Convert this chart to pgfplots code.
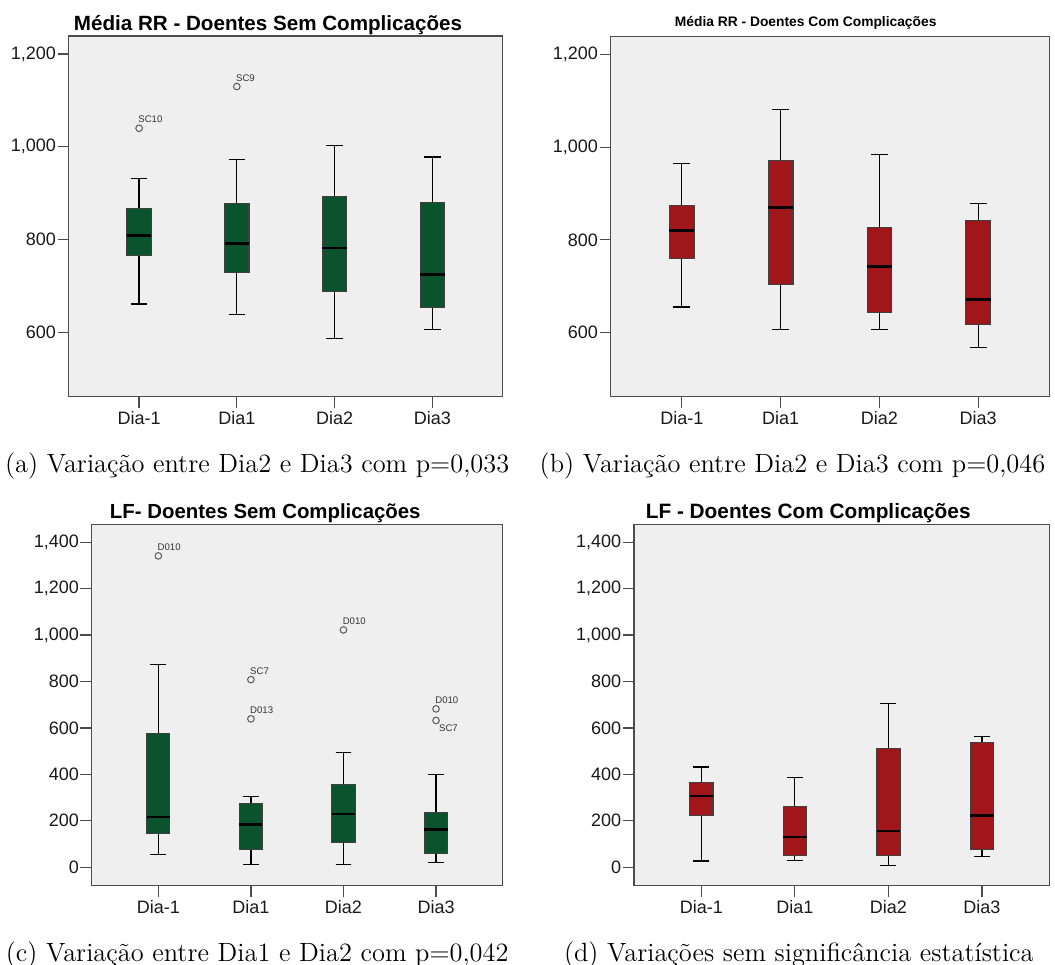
\documentclass[border=0pt]{standalone}
\usepackage{fontspec}
\usepackage{pgfplots}
\pgfplotsset{compat=1.18}
\usepgfplotslibrary{statistics}
\newfontfamily\spss{Liberation Sans}
\definecolor{sgreen}{HTML}{0B532D}
\definecolor{cred}{HTML}{A1161B}
\definecolor{bgc}{HTML}{EFEFEF}
\pgfplotsset{
  spss/.style={
    scale only axis, anchor=south west,
    axis background/.style={fill=bgc},
    axis line style={draw=black!70, line width=0.6bp},
    xmin=-0.72, xmax=3.72,
    xtick={0,1,2,3}, xticklabels={Dia-1,Dia1,Dia2,Dia3},
    tick align=outside, major tick length=5.6bp,
    tick style={black!70, line width=0.6bp},
    xtick pos=left, ytick pos=left,
    ticklabel style={font=\spss\fontsize{9bp}{10bp}\selectfont, text=black!90},
    /pgf/number format/assume math mode=true,
    /pgf/number format/1000 sep={,},
    yticklabel style={inner sep=0.6bp},
    xticklabel style={inner sep=1.8bp},
    boxplot/draw direction=y,
    boxplot/box extend=0.25,
    boxplot/whisker extend=0.17,
    boxplot/every median/.style={draw=black, line width=1.3bp},
    boxplot/every whisker/.style={draw=black, line width=0.6bp},
  },
  outl/.style={only marks, mark=o, mark size=1.65bp,
    mark options={draw=black!65, line width=0.5bp},
    nodes near coords, point meta=explicit symbolic,
    every node near coord/.style={font=\spss\fontsize{4.8bp}{5bp}\selectfont, text=black!80, inner sep=0pt, anchor=base west, xshift=-0.6bp, yshift=2.7bp}},
  outlb/.style={outl, every node near coord/.style={font=\spss\fontsize{4.8bp}{5bp}\selectfont, text=black!80, inner sep=0pt, anchor=north west, xshift=1.3bp, yshift=-2.1bp}},
}
\newcommand\bx[7]{\addplot[boxplot prepared={draw position=#1, lower whisker=#2, lower quartile=#3, median=#4, upper quartile=#5, upper whisker=#6}, fill=#7, draw=black!75, line width=0.55bp] coordinates {};}
\begin{document}
\begin{tikzpicture}
\useasboundingbox (0,0) rectangle (527.5bp,-482.5bp);
% (a)
\begin{axis}[spss, at={(34.35bp,-198.35bp)}, width=217bp, height=180.35bp,
  ymin=461, ymax=1239, ytick={600,800,1000,1200}]
\bx{0}{661}{765.5}{808.6}{867.6}{931}{sgreen}
\bx{1}{638}{728}{792}{878.4}{972}{sgreen}
\bx{2}{586}{688}{782}{892}{1003}{sgreen}
\bx{3}{606}{652.5}{724}{880.6}{978}{sgreen}
\addplot[outl] table[meta=label] {
x y label
0 1040 SC10
1 1130 SC9
};
\end{axis}
% (b)
\begin{axis}[spss, at={(305.35bp,-198.35bp)}, width=219.3bp, height=180bp,
  ymin=461, ymax=1239, ytick={600,800,1000,1200}]
\bx{0}{655}{759}{820}{875}{965.5}{cred}
\bx{1}{606.5}{704}{870.5}{972}{1082}{cred}
\bx{2}{606.5}{642.5}{742}{827}{984}{cred}
\bx{3}{567}{616.6}{671}{841}{879}{cred}
\end{axis}
% (c)
\begin{axis}[spss, at={(45.85bp,-442.65bp)}, width=205.5bp, height=180.5bp,
  ymin=-78, ymax=1477, ytick={0,200,400,600,800,1000,1200,1400}]
\bx{0}{53}{143.6}{216.8}{577}{873}{sgreen}
\bx{1}{10}{77.5}{185}{272.8}{304}{sgreen}
\bx{2}{10}{106}{229.7}{356}{492.5}{sgreen}
\bx{3}{20}{60}{162}{235.5}{397.7}{sgreen}
\addplot[outl] table[meta=label] {
x y label
0 1341 D010
1 808 SC7
1 639 D013
2 1022 D010
3 682 D010
};
\addplot[outlb] table[meta=label] {
x y label
3 632 SC7
};
\end{axis}
% (d)
\begin{axis}[spss, at={(317bp,-442.65bp)}, width=207.65bp, height=180.5bp,
  ymin=-78, ymax=1477, ytick={0,200,400,600,800,1000,1200,1400}]
\bx{0}{27}{222.5}{306}{363}{432}{cred}
\bx{1}{28.7}{51.7}{130.7}{262.7}{387.7}{cred}
\bx{2}{8.6}{48.8}{156.5}{511}{703.5}{cred}
\bx{3}{46}{74.7}{222.5}{535.5}{561.4}{cred}
\end{axis}
% titles
\node[anchor=base, inner sep=0pt, font=\spss\bfseries\fontsize{10.3bp}{12bp}\selectfont] at (134bp,-15bp) {Média RR - Doentes Sem Complicações};
\node[anchor=base, inner sep=0pt, font=\spss\bfseries\fontsize{6.9bp}{8bp}\selectfont] at (402.85bp,-13.15bp) {Média RR - Doentes Com Complicações};
\node[anchor=base, inner sep=0pt, font=\spss\bfseries\fontsize{10.2bp}{12bp}\selectfont] at (132.65bp,-259bp) {LF- Doentes Sem Complicações};
\node[anchor=base, inner sep=0pt, font=\spss\bfseries\fontsize{10.4bp}{12bp}\selectfont] at (404.1bp,-259bp) {LF - Doentes Com Complicações};
% captions
\node[anchor=base, inner sep=0pt, font=\fontsize{13.2bp}{15bp}\selectfont] at (128.6bp,-236.4bp) {(a) Variação entre Dia2 e Dia3 com p=0,033};
\node[anchor=base, inner sep=0pt, font=\fontsize{13.2bp}{15bp}\selectfont] at (396.25bp,-236.4bp) {(b) Variação entre Dia2 e Dia3 com p=0,046};
\node[anchor=base, inner sep=0pt, font=\fontsize{13.2bp}{15bp}\selectfont] at (128.6bp,-480.7bp) {(c) Variação entre Dia1 e Dia2 com p=0,042};
\node[anchor=base, inner sep=0pt, font=\fontsize{13.2bp}{15bp}\selectfont] at (399.4bp,-480.7bp) {(d) Variações sem significância estatística};
\end{tikzpicture}
\end{document}
